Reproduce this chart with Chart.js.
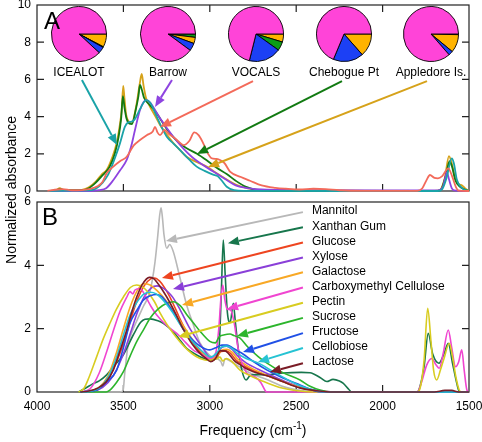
<!DOCTYPE html>
<html>
<head>
<meta charset="utf-8">
<script src="https://cdn.jsdelivr.net/npm/chart.js@4.4.1/dist/chart.umd.min.js"></script>
<style>
  html, body { margin: 0; padding: 0; background: #fff; }
  #wrap { position: relative; width: 482px; height: 442px; overflow: hidden; font-family: "Liberation Sans", Arial, Helvetica, sans-serif; }
  #wrap canvas.full { position: absolute; left: 0; top: 0; }
  .pie { position: absolute; }
  .site { position: absolute; font-size: 12px; line-height: 14px; white-space: nowrap; transform: translateX(-50%); }
  .panel { position: absolute; font-size: 24px; line-height: 24px; }
</style>
</head>
<body>
<div id="wrap">
  <canvas id="chartA" class="full" width="482" height="442"></canvas>
  <canvas id="chartB" class="full" width="482" height="442"></canvas>
</div>
<script>
// ---- data ----
const freqTicks = [4000, 3500, 3000, 2500, 2000, 1500];

// panel A: ambient sites
const sitesA = ['ICEALOT', 'Barrow', 'VOCALS', 'Chebogue Pt', 'Appledore Is.'];
const pieGroups = ['Acid', 'Amine', 'Acid', 'Alkane', 'Hydroxyl'];
const pieIcealot = [0, 7.7, 0.4, 3.8, 88.1];
const pieBarrow = [2.0, 3.6, 0, 4.5, 89.9];
const pieVocals = [0, 4.7, 5.2, 19.0, 71.1];
const pieChebogue = [0, 13.5, 0, 17.8, 68.7];
const pieAppledore = [0.4, 10.6, 0, 2.6, 86.4];

const icealot = [[3940,0],[3800,0.02],[3700,0.03],[3660,0.12],[3620,0.45],[3590,0.85],[3568,1.31],[3540,2.0],[3520,2.56],[3491,3.46],[3470,3.7],[3452,3.73],[3435,3.85],[3404,4.4],[3380,4.8],[3366,4.89],[3345,4.75],[3307,4.0],[3280,3.45],[3249,2.92],[3210,2.55],[3172,2.2],[3120,1.7],[3076,1.31],[3030,1.08],[2981,0.88],[2955,0.8],[2930,0.55],[2902,0.23],[2860,0.05],[2800,0.01],[2000,0],[1680,0],[1655,0.1],[1630,0.7],[1600,1.75],[1588,1.5],[1570,0.6],[1545,0.2],[1520,0.05],[1500,0]];
const barrow = [[3940,0],[3700,0],[3640,0.05],[3600,0.15],[3558,0.59],[3520,1.1],[3481,1.67],[3455,2.4],[3433,3.28],[3404,4.35],[3382,4.8],[3366,4.89],[3345,4.75],[3310,4.25],[3280,3.8],[3250,3.4],[3211,2.92],[3150,2.25],[3100,1.8],[3057,1.5],[2980,1.05],[2902,0.59],[2850,0.3],[2770,0.14],[2700,0.08],[2500,0.05],[2000,0.03],[1680,0.03],[1652,0.2],[1635,0.8],[1628,1.02],[1615,0.6],[1600,0.15],[1585,0.03],[1500,0]];
const vocals = [[3940,0],[3880,0.08],[3850,0.1],[3800,0.04],[3740,0.05],[3700,0.1],[3650,0.25],[3620,0.5],[3597,0.95],[3560,1.3],[3520,1.6],[3481,1.84],[3440,2.45],[3404,2.74],[3365,3.0],[3330,3.2],[3317,3.45],[3303,3.15],[3288,3.0],[3262,3.28],[3235,3.05],[3201,2.83],[3150,2.47],[3118,2.7],[3090,3.15],[3065,3.0],[3040,2.6],[3010,2.0],[2990,1.76],[2960,1.72],[2941,1.67],[2915,1.5],[2883,1.04],[2820,0.75],[2767,0.55],[2700,0.3],[2620,0.17],[2560,0.12],[2480,0.08],[2400,0.12],[2330,0.1],[2250,0.04],[2100,0.01],[1800,0.01],[1770,0.15],[1745,0.6],[1726,0.86],[1700,0.7],[1680,0.68],[1655,0.8],[1620,1.22],[1598,0.8],[1575,0.2],[1560,0.02],[1500,0]];
const chebogue = [[3940,0],[3890,0.03],[3870,0.1],[3840,0.04],[3740,0.04],[3700,0.15],[3660,0.45],[3620,0.85],[3580,1.3],[3550,2.0],[3528,2.9],[3513,3.9],[3503,5.1],[3494,4.5],[3482,3.9],[3465,3.62],[3450,3.6],[3430,4.3],[3413,5.1],[3404,5.7],[3395,5.5],[3380,5.0],[3350,4.65],[3317,4.3],[3288,3.9],[3250,3.35],[3211,2.9],[3172,2.55],[3134,2.3],[3074,2.0],[3018,1.65],[2960,1.25],[2900,0.9],[2850,0.55],[2790,0.22],[2720,0.05],[2600,0.01],[1700,0],[1665,0.05],[1635,0.8],[1612,1.6],[1598,1.3],[1578,0.55],[1555,0.25],[1525,0.08],[1500,0]];
const appledore = [[3940,0],[3890,0.04],[3868,0.15],[3850,0.06],[3790,0.03],[3740,0.06],[3700,0.2],[3660,0.5],[3625,0.9],[3597,1.13],[3565,1.8],[3539,2.58],[3520,3.6],[3510,4.35],[3501,5.65],[3494,5.0],[3484,4.1],[3470,3.75],[3452,3.64],[3438,4.0],[3423,4.72],[3405,5.8],[3394,6.29],[3384,5.7],[3369,5.0],[3346,4.53],[3320,4.1],[3288,3.55],[3250,3.05],[3211,2.58],[3172,2.2],[3134,1.84],[3074,1.55],[3018,1.31],[2960,0.95],[2902,0.62],[2850,0.35],[2786,0.15],[2700,0.05],[2500,0.02],[1700,0],[1668,0.05],[1640,0.7],[1616,1.88],[1600,1.5],[1580,0.7],[1560,0.38],[1540,0.3],[1520,0.12],[1500,0]];

// arrow anchors in data units: [fromFreq, fromAbs, toFreq, toAbs]
const arrowsA = [[3740,5.97,3537,2.47],[3219,5.97,3317,4.52],[2750,5.91,3288,3.44],[2235,5.91,3074,1.99],[1743,5.91,3010,1.29]];

// panel B: reference compounds
const compounds = ['Mannitol', 'Xanthan Gum', 'Glucose', 'Xylose', 'Galactose', 'Carboxymethyl Cellulose', 'Pectin', 'Sucrose', 'Fructose', 'Cellobiose', 'Lactose'];

const mannitol = [[3750,0],[3520,0],[3502,0.05],[3492,0.6],[3473,1.48],[3450,1.9],[3425,2.22],[3385,2.7],[3346,3.17],[3317,4.11],[3300,5.0],[3290,5.59],[3282,5.82],[3274,5.5],[3265,4.96],[3249,4.54],[3232,4.66],[3211,4.43],[3172,3.59],[3134,2.75],[3095,2.12],[3057,1.55],[3000,1.15],[2955,1.05],[2935,0.95],[2925,0.82],[2912,1.05],[2890,1.0],[2830,0.8],[2767,0.6],[2650,0.35],[2575,0.17],[2450,0.03],[2350,0],[1500,0]];
const xanthan = [[3760,0],[3720,0.12],[3680,0.25],[3640,0.35],[3597,0.54],[3550,0.85],[3501,1.17],[3443,1.8],[3400,2.2],[3375,2.3],[3346,2.31],[3300,2.25],[3269,2.17],[3211,1.9],[3170,1.62],[3134,1.38],[3076,1.17],[3030,1.05],[2999,1.0],[2960,1.06],[2945,1.5],[2933,3.2],[2922,4.8],[2911,3.7],[2898,2.5],[2882,2.2],[2864,2.8],[2852,2.2],[2835,1.35],[2815,0.7],[2790,0.38],[2770,0.5],[2740,0.55],[2671,0.54],[2576,0.6],[2470,0.62],[2420,0.61],[2360,0.45],[2323,0.33],[2287,0.4],[2250,0.35],[2229,0.28],[2195,0.08],[2179,0],[1800,0],[1784,0.17],[1760,0.8],[1736,1.85],[1710,1.2],[1674,0.91],[1645,1.2],[1620,1.54],[1595,0.9],[1571,0.28],[1555,0],[1500,0]];
const glucose = [[3750,0],[3700,0.02],[3640,0.12],[3590,0.38],[3540,0.95],[3501,1.5],[3460,2.25],[3420,2.9],[3380,3.35],[3340,3.58],[3320,3.6],[3290,3.5],[3260,3.28],[3220,2.88],[3180,2.4],[3130,1.85],[3080,1.42],[3030,1.12],[2995,0.98],[2965,1.05],[2935,1.28],[2905,1.3],[2880,1.22],[2850,1.02],[2800,0.82],[2750,0.68],[2650,0.48],[2575,0.32],[2480,0.14],[2380,0.03],[2300,0],[1500,0]];
const xylose = [[3750,0],[3680,0.02],[3620,0.15],[3560,0.5],[3500,1.2],[3460,1.85],[3420,2.5],[3380,3.0],[3340,3.28],[3305,3.35],[3270,3.28],[3240,3.15],[3213,2.98],[3170,2.58],[3120,2.05],[3070,1.62],[3030,1.3],[2992,1.08],[2962,1.18],[2932,1.4],[2903,1.45],[2872,1.35],[2840,1.15],[2790,0.92],[2720,0.72],[2650,0.54],[2550,0.3],[2450,0.12],[2350,0.03],[2250,0],[1500,0]];
const galactose = [[3750,0],[3700,0.02],[3640,0.15],[3590,0.5],[3540,1.25],[3500,2.0],[3460,2.7],[3420,3.2],[3385,3.42],[3345,3.38],[3305,3.2],[3255,2.9],[3205,2.5],[3161,2.15],[3120,1.82],[3070,1.42],[3030,1.18],[2995,1.04],[2962,1.12],[2932,1.32],[2902,1.35],[2870,1.25],[2840,1.05],[2790,0.85],[2720,0.65],[2650,0.48],[2550,0.28],[2450,0.1],[2350,0.02],[2250,0],[1500,0]];
const carboxymethyl = [[3750,0],[3693,0.1],[3640,0.6],[3597,1.27],[3560,1.9],[3520,2.54],[3480,3.0],[3462,3.17],[3445,3.1],[3433,3.22],[3404,3.27],[3370,3.0],[3340,2.7],[3307,2.43],[3250,2.1],[3191,1.85],[3150,1.62],[3120,1.45],[3090,1.3],[3057,1.22],[3000,1.06],[2965,1.25],[2948,2.0],[2935,3.0],[2925,3.38],[2914,2.95],[2900,2.62],[2880,2.59],[2860,2.22],[2840,1.5],[2825,1.1],[2800,0.75],[2786,0.59],[2740,0.48],[2705,0.3],[2680,0.05],[2670,0],[1800,0],[1775,0.3],[1745,0.85],[1716,1.06],[1690,0.85],[1672,0.75],[1650,1.2],[1620,1.96],[1600,1.4],[1578,0.8],[1560,0.95],[1542,1.33],[1528,0.7],[1512,0.06],[1500,0]];
const pectin = [[3760,0],[3730,0.1],[3700,0.45],[3655,1.11],[3615,1.7],[3578,2.17],[3540,2.62],[3500,3.0],[3460,3.3],[3423,3.38],[3390,3.32],[3365,3.2],[3320,2.85],[3288,2.5],[3250,2.15],[3211,1.85],[3150,1.45],[3100,1.2],[3057,1.06],[3000,1.0],[2960,1.05],[2941,1.1],[2925,0.98],[2905,1.06],[2870,0.95],[2825,0.69],[2760,0.5],[2710,0.38],[2600,0.15],[2480,0.03],[2400,0],[1800,0],[1784,0.1],[1760,1.0],[1739,2.64],[1720,1.6],[1705,0.69],[1687,0.38],[1665,0.7],[1645,1.05],[1614,1.54],[1595,1.1],[1575,0.45],[1558,0.08],[1545,0],[1500,0]];
const sucrose = [[3750,0],[3600,0],[3578,0.06],[3540,0.3],[3500,0.64],[3460,1.15],[3423,1.59],[3380,2.0],[3346,2.33],[3300,2.62],[3249,2.8],[3211,2.85],[3170,2.72],[3134,2.45],[3090,2.15],[3057,1.92],[3000,1.6],[2968,1.55],[2945,1.75],[2920,1.8],[2883,1.83],[2860,1.78],[2825,1.7],[2780,1.42],[2720,1.12],[2671,0.92],[2580,0.62],[2478,0.38],[2420,0.18],[2362,0.06],[2300,0],[1500,0]];
const fructose = [[3750,0],[3700,0.02],[3655,0.06],[3600,0.3],[3539,0.69],[3500,1.4],[3462,2.17],[3420,2.6],[3385,2.9],[3340,3.05],[3310,3.08],[3280,3.02],[3249,2.82],[3200,2.42],[3153,1.98],[3100,1.65],[3057,1.45],[3000,1.33],[2965,1.4],[2930,1.48],[2900,1.48],[2870,1.4],[2840,1.3],[2808,1.2],[2750,0.97],[2671,0.7],[2580,0.45],[2478,0.22],[2400,0.05],[2350,0],[1500,0]];
const cellobiose = [[3750,0],[3700,0.02],[3640,0.12],[3590,0.45],[3540,1.1],[3500,1.8],[3460,2.45],[3420,2.85],[3380,3.1],[3346,3.15],[3310,3.1],[3270,2.9],[3220,2.55],[3170,2.12],[3120,1.72],[3070,1.42],[3030,1.22],[2995,1.1],[2962,1.22],[2932,1.42],[2902,1.45],[2872,1.38],[2840,1.22],[2790,1.06],[2721,0.92],[2650,0.7],[2560,0.42],[2470,0.18],[2380,0.04],[2300,0],[1500,0]];
const lactose = [[3750,0],[3700,0.03],[3650,0.12],[3600,0.32],[3558,0.7],[3520,1.3],[3481,1.95],[3450,2.55],[3423,3.0],[3390,3.4],[3350,3.62],[3325,3.58],[3290,3.35],[3249,3.0],[3200,2.5],[3153,1.98],[3100,1.5],[3057,1.22],[3020,1.05],[2995,0.96],[2968,1.05],[2940,1.3],[2912,1.3],[2890,1.2],[2860,1.0],[2830,0.88],[2790,0.74],[2748,0.64],[2650,0.48],[2575,0.32],[2480,0.13],[2381,0.04],[2286,0],[1700,0],[1640,0.05],[1600,0.05],[1560,0],[1500,0]];

const labelFreqB = 2461;
const labelAbsB = [5.68, 5.2, 4.72, 4.25, 3.78, 3.3, 2.82, 2.34, 1.86, 1.39, 0.91];
const arrowTipsB = [[3254,4.77],[2895,4.70],[3277,3.60],[3213,3.25],[3161,2.75],[2900,2.62],[3184,1.74],[2843,1.77],[2808,1.26],[2721,0.95],[2652,0.63]];

// ---- styling ----
const FONT = '"Liberation Sans", Arial, Helvetica, sans-serif';
const colorsA = ['#1aa3a8', '#8e44e0', '#f36a5a', '#127a12', '#d6a21a'];
const colorsB = ['#b8b8b8', '#17764c', '#ee4520', '#8a3fd8', '#f8a825', '#f045d0', '#d8cc20', '#2cb52c', '#2050e6', '#26c3d3', '#7a1c26'];
const pieColors = ['#0b9e17', '#ffb300', '#0b9e17', '#1c40f5', '#ff44d8'];

Chart.defaults.font.family = FONT;
Chart.defaults.font.size = 12;
Chart.defaults.color = '#000';
Chart.defaults.animation = false;
Chart.defaults.events = [];
Chart.defaults.plugins.legend.display = false;
Chart.defaults.plugins.tooltip.enabled = false;

const toPoints = (pairs) => pairs.map(([x, y]) => ({ x, y }));

function lineSet(label, pairs, color, width, order) {
    return {
        label,
        data: toPoints(pairs),
        borderColor: color,
        borderWidth: width,
        pointRadius: 0,
        fill: false,
        cubicInterpolationMode: 'monotone',
        clip: 3,
        order,
    };
}

function drawArrow(ctx, x0, y0, x1, y1, color) {
    const ang = Math.atan2(y1 - y0, x1 - x0);
    const head = 11, half = 4.5;
    const bx = x1 - head * Math.cos(ang);
    const by = y1 - head * Math.sin(ang);
    ctx.strokeStyle = color;
    ctx.lineWidth = 2;
    ctx.beginPath();
    ctx.moveTo(x0, y0);
    ctx.lineTo(bx, by);
    ctx.stroke();
    ctx.fillStyle = color;
    ctx.beginPath();
    ctx.moveTo(x1, y1);
    ctx.lineTo(bx + half * Math.sin(ang), by - half * Math.cos(ang));
    ctx.lineTo(bx - half * Math.sin(ang), by + half * Math.cos(ang));
    ctx.closePath();
    ctx.fill();
}

// box round the plot with inward tick marks
const framePlugin = {
    id: 'frame',
    beforeDatasetsDraw(chart, args, opts) {
        const { ctx, chartArea: a, scales } = chart;
        const L = 7;
        ctx.save();
        ctx.strokeStyle = '#222';
        ctx.lineWidth = 1.2;
        ctx.strokeRect(a.left, a.top, a.right - a.left, a.bottom - a.top);
        ctx.beginPath();
        scales.y.ticks.forEach((t) => {
            if (t.value <= scales.y.min || t.value >= scales.y.max) return;
            const py = scales.y.getPixelForValue(t.value);
            ctx.moveTo(a.left, py); ctx.lineTo(a.left + L, py);
            ctx.moveTo(a.right, py); ctx.lineTo(a.right - L, py);
        });
        freqTicks.forEach((v) => {
            if (v <= scales.x.min || v >= scales.x.max) return;
            const px = scales.x.getPixelForValue(v);
            if (opts.top) { ctx.moveTo(px, a.top); ctx.lineTo(px, a.top + L); }
            if (opts.bottom) { ctx.moveTo(px, a.bottom); ctx.lineTo(px, a.bottom - L); }
        });
        ctx.stroke();
        ctx.restore();
    },
};

const arrowPlugin = {
    id: 'arrows',
    afterDatasetsDraw(chart, args, opts) {
        const { ctx, scales } = chart;
        ctx.save();
        opts.items.forEach((it) => {
            const x0 = scales.x.getPixelForValue(it.from[0]);
            const y0 = scales.y.getPixelForValue(it.from[1]);
            const x1 = scales.x.getPixelForValue(it.to[0]);
            const y1 = scales.y.getPixelForValue(it.to[1]);
            drawArrow(ctx, x0, y0, x1, y1, it.color);
            if (it.label) {
                ctx.fillStyle = '#000';
                ctx.font = `12px ${FONT}`;
                ctx.textAlign = 'left';
                ctx.textBaseline = 'middle';
                ctx.fillText(it.label, x0 + 9, y0 - 1);
            }
        });
        ctx.restore();
    },
};

const yTitlePlugin = {
    id: 'yTitle',
    afterDraw(chart) {
        const { ctx, chartArea: a } = chart;
        ctx.save();
        ctx.translate(12, a.bottom - 1);
        ctx.rotate(-Math.PI / 2);
        ctx.font = `14px ${FONT}`;
        ctx.fillStyle = '#000';
        ctx.textAlign = 'center';
        ctx.textBaseline = 'middle';
        ctx.fillText('Normalized absorbance', 0, 0);
        ctx.restore();
    },
};

const xTitlePlugin = {
    id: 'xTitle',
    afterDraw(chart) {
        const { ctx, chartArea: a } = chart;
        const main = 'Frequency (cm', sup = '-1', tail = ')';
        ctx.save();
        ctx.fillStyle = '#000';
        ctx.textBaseline = 'alphabetic';
        ctx.textAlign = 'left';
        ctx.font = `14px ${FONT}`;
        const w1 = ctx.measureText(main).width;
        const w3 = ctx.measureText(tail).width;
        ctx.font = `10px ${FONT}`;
        const w2 = ctx.measureText(sup).width;
        let x = (a.left + a.right) / 2 - (w1 + w2 + w3) / 2;
        const y = a.bottom + 43;
        ctx.font = `14px ${FONT}`;
        ctx.fillText(main, x, y);
        x += w1;
        ctx.font = `10px ${FONT}`;
        ctx.fillText(sup, x, y - 6);
        x += w2;
        ctx.font = `14px ${FONT}`;
        ctx.fillText(tail, x, y);
        ctx.restore();
    },
};

function yAxis(max) {
    return {
        type: 'linear',
        min: 0,
        max,
        ticks: { stepSize: 2, padding: 6, font: { size: 12 } },
        grid: { display: false, drawTicks: false },
        border: { display: false },
        afterFit(s) { s.width = 37; s.paddingTop = 0; s.paddingBottom = 0; },
    };
}

// ---- panel A ----
const seriesA = [icealot, barrow, vocals, chebogue, appledore];
new Chart(document.getElementById('chartA'), {
    type: 'line',
    data: {
        datasets: sitesA.map((name, i) => lineSet(name, seriesA[i], colorsA[i], 1.8, i === 2 ? 0 : i + 1)),
    },
    options: {
        responsive: false,
        layout: { padding: { top: 5, right: 13, bottom: 251, left: 0 } },
        scales: {
            x: { type: 'linear', min: 1500, max: 4000, reverse: true, display: false },
            y: yAxis(10),
        },
        plugins: {
            frame: { top: true, bottom: true },
            arrows: {
                items: sitesA.map((name, i) => ({
                    from: [arrowsA[i][0], arrowsA[i][1]],
                    to: [arrowsA[i][2], arrowsA[i][3]],
                    color: colorsA[i],
                })),
            },
        },
    },
    plugins: [framePlugin, arrowPlugin, yTitlePlugin],
});

// ---- panel B ----
const seriesB = [mannitol, xanthan, glucose, xylose, galactose, carboxymethyl, pectin, sucrose, fructose, cellobiose, lactose];
new Chart(document.getElementById('chartB'), {
    type: 'line',
    data: {
        datasets: compounds.map((name, i) => lineSet(name, seriesB[i], colorsB[i], 1.6, compounds.length - 1 - i)),
    },
    options: {
        responsive: false,
        layout: { padding: { top: 202, right: 13, bottom: 0, left: 0 } },
        scales: {
            x: {
                type: 'linear',
                min: 1500,
                max: 4000,
                reverse: true,
                ticks: {
                    stepSize: 500,
                    padding: 7,
                    autoSkip: false,
                    maxRotation: 0,
                    font: { size: 12 },
                    callback: (v) => String(v),
                },
                grid: { display: false, drawTicks: false },
                border: { display: false },
                afterFit(s) { s.height = 50; s.paddingLeft = 0; s.paddingRight = 0; },
            },
            y: yAxis(6),
        },
        plugins: {
            frame: { top: false, bottom: true },
            arrows: {
                items: compounds.map((name, i) => ({
                    from: [labelFreqB, labelAbsB[i]],
                    to: arrowTipsB[i],
                    color: colorsB[i],
                    label: name,
                })),
            },
        },
    },
    plugins: [framePlugin, arrowPlugin, xTitlePlugin],
});

// ---- pies above panel A ----
const pieValues = [pieIcealot, pieBarrow, pieVocals, pieChebogue, pieAppledore];
const pieCenters = [79, 168, 256, 344, 431];
const wrap = document.getElementById('wrap');
sitesA.forEach((name, i) => {
    const cv = document.createElement('canvas');
    cv.className = 'pie';
    cv.width = 56;
    cv.height = 56;
    cv.style.left = (pieCenters[i] - 28) + 'px';
    cv.style.top = '6px';
    wrap.appendChild(cv);
    new Chart(cv, {
        type: 'pie',
        data: {
            labels: pieGroups,
            datasets: [{ data: pieValues[i], backgroundColor: pieColors, borderColor: '#000', borderWidth: 0.9 }],
        },
        options: { responsive: false, rotation: 90, layout: { padding: 0 } },
    });

    const lab = document.createElement('div');
    lab.className = 'site';
    lab.textContent = name;
    lab.style.left = pieCenters[i] + 'px';
    lab.style.top = '65px';
    wrap.appendChild(lab);
});

['A', 'B'].forEach((t, i) => {
    const d = document.createElement('div');
    d.className = 'panel';
    d.textContent = t;
    d.style.left = i === 0 ? '44px' : '42px';
    d.style.top = i === 0 ? '9px' : '205px';
    wrap.appendChild(d);
});
</script>
</body>
</html>
